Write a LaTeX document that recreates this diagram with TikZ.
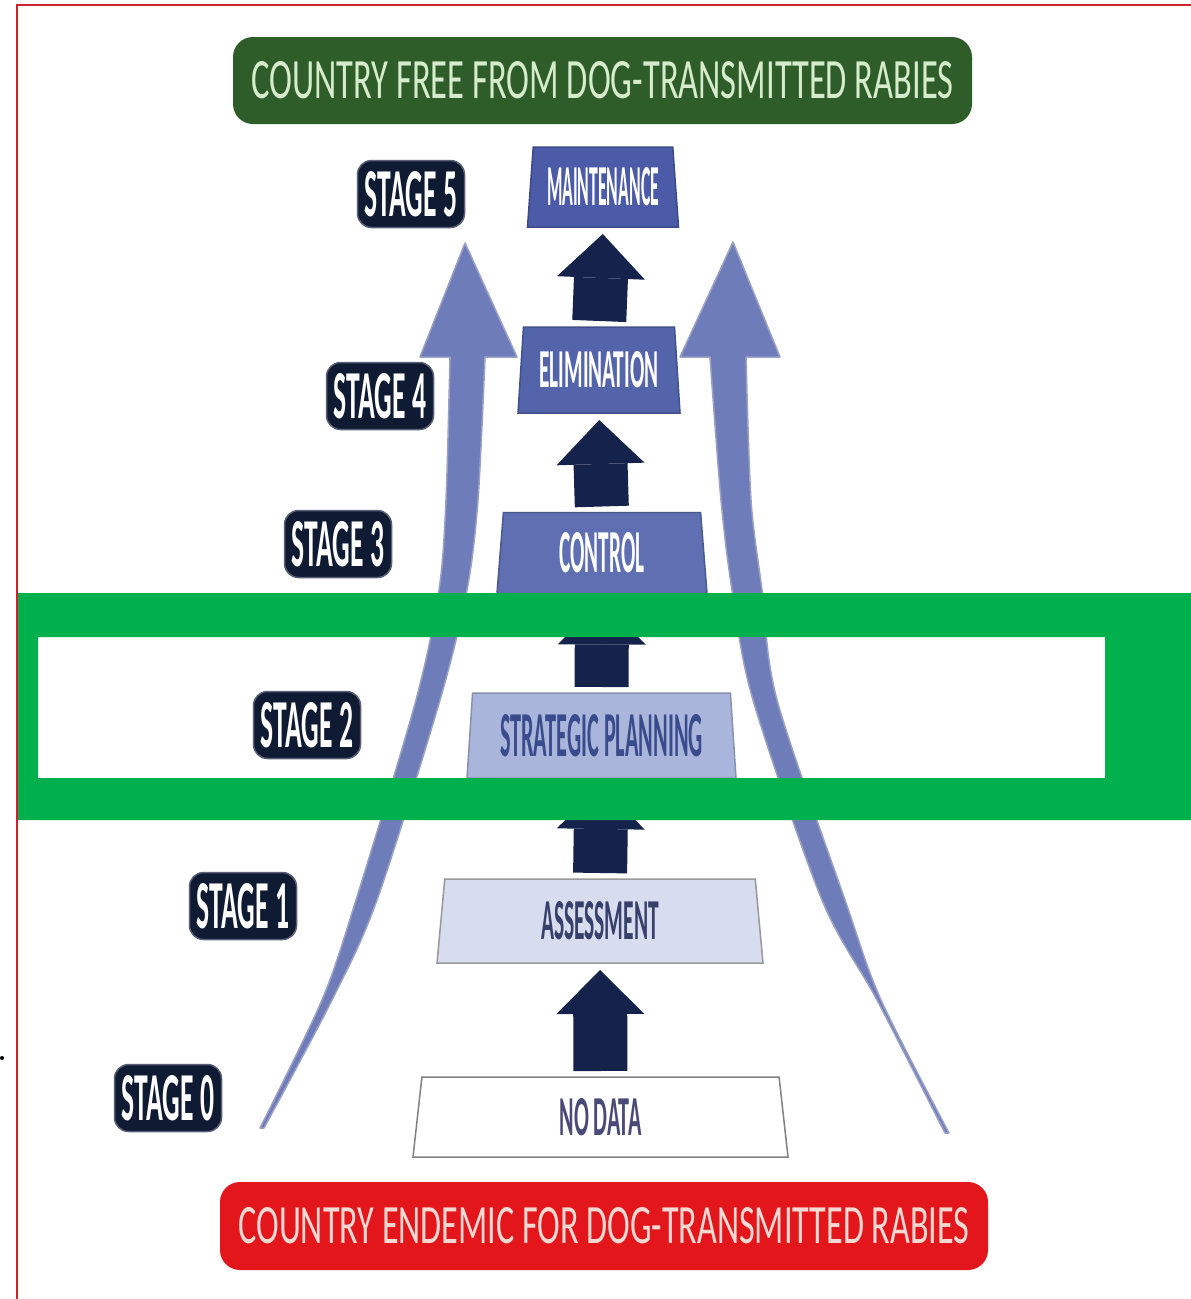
\documentclass[tikz,border=0pt]{standalone}
\usepackage{fontspec}
\setmainfont{Carlito}
\usepackage{graphicx}
\usetikzlibrary{shapes.geometric}
\usetikzlibrary{arrows.meta}

\definecolor{freegreen}{HTML}{2F5D29}
\definecolor{freetext}{HTML}{D6ECCC}
\definecolor{endemicred}{HTML}{E3161C}
\definecolor{endemictext}{HTML}{F7D9D4}
\definecolor{stagenavy}{HTML}{0F1A33}
\definecolor{stageedge}{HTML}{5A6078}
\definecolor{arrownavy}{HTML}{15224B}
\definecolor{sidefill}{HTML}{6E7CBA}
\definecolor{sideedge}{HTML}{9AA1C4}
\definecolor{maintblue}{HTML}{4C5BA7}
\definecolor{elimblue}{HTML}{5464AB}
\definecolor{ctrlblue}{HTML}{5F6FB1}
\definecolor{stratblue}{HTML}{A9B5DA}
\definecolor{strattext}{HTML}{3A4B8D}
\definecolor{assessfill}{HTML}{D7DCEF}
\definecolor{assesstext}{HTML}{373F6B}
\definecolor{nodatatext}{HTML}{4A4A78}
\definecolor{hlgreen}{HTML}{00B04C}
\definecolor{borderred}{HTML}{D0222C}

\newcommand{\fitbox}[3]{\resizebox{#1pt}{#2pt}{#3}}

\begin{document}
\begin{tikzpicture}[x=1pt,y=-1pt,
    rung/.style={trapezium, trapezium stretches body, inner sep=0pt, outer sep=0pt,
        line width=1.5pt, font=\bfseries},
    stagebox/.style={rounded corners=14pt, fill=stagenavy, draw=stageedge, line width=1.5pt,
        minimum width=107pt, minimum height=67pt, inner sep=0pt, text=white, font=\bfseries},
    banner/.style={rounded corners=20pt, inner sep=0pt, minimum height=87pt},
    climb/.style={draw=arrownavy, line width=54pt,
        -{Triangle[width=88pt,length=44pt,line width=0pt]},
        shorten <=6pt, shorten >=7pt},
    sidearrow/.style={fill=sidefill, draw=sideedge, line width=1.5pt, line join=round}]

    \useasboundingbox (0,0) rectangle (1191,1299);
    \fill[white] (0,0) rectangle (1191,1299);

    % the two rising arrows at the sides
    \filldraw[sidearrow] (420,357) -- (465,243) -- (517,357) -- (485,357)
        -- plot[smooth] coordinates {(485,357) (478,500) (467,590) (440,700) (377,900) (332,1000) (264,1128)}
        -- (260,1128)
        -- plot[smooth] coordinates {(260,1128) (322,1000) (356,900) (416,700) (439,590) (446,500) (450,357)}
        -- cycle;
    \filldraw[sidearrow] (780,357) -- (733,242) -- (680,357) -- (710,357)
        -- plot[smooth] coordinates {(710,357) (721,500) (732,590) (753,700) (822,900) (877,1000) (945,1133)}
        -- (949,1133)
        -- plot[smooth] coordinates {(949,1133) (881,1000) (845,900) (777,700) (762,590) (751,500) (746,357)}
        -- cycle;

    % the ladder
    \node[rung, fill=maintblue, draw=maintblue!80!black, text=white,
        minimum width=151pt, minimum height=80pt, trapezium angle=81.5] (maint) at (603,187)
        {\fitbox{112}{38}{MAINTENANCE}};
    \node[rung, fill=elimblue, draw=elimblue!80!black, text=white,
        minimum width=162pt, minimum height=86pt, trapezium angle=81.4] (elim) at (599,370)
        {\fitbox{119}{36}{ELIMINATION}};
    \node[rung, fill=ctrlblue, draw=ctrlblue!80!black, text=white,
        minimum width=210pt, minimum height=81pt, trapezium angle=81] (ctrl) at (602,553)
        {\fitbox{85}{40}{CONTROL}};
    \node[rung, fill=stratblue, draw=stratblue!80!black, text=strattext,
        minimum width=269pt, minimum height=85pt, trapezium angle=82.5] (strat) at (601.5,735.5)
        {\fitbox{203}{42}{STRATEGIC PLANNING}};
    \node[rung, fill=assessfill, draw=gray!80, text=assesstext,
        minimum width=326pt, minimum height=84pt, trapezium angle=78.6] (assess) at (600,921)
        {\fitbox{118}{38}{ASSESSMENT}};
    \node[rung, fill=white, draw=gray, text=nodatatext,
        minimum width=375pt, minimum height=80pt, trapezium angle=76.6] (nodata) at (600.5,1117)
        {\fitbox{82}{37}{NO DATA}};

    \foreach \lo/\hi in {nodata/assess, assess/strat, strat/ctrl, ctrl/elim, elim/maint}
        \draw[climb] (\lo.north) -- (\hi.south);

    % stage labels
    \node[stagebox] (s5) at (411,194) {\fitbox{92}{45}{STAGE 5}};
    \node[stagebox] (s4) at (380,396) {\fitbox{92}{45}{STAGE 4}};
    \node[stagebox] (s3) at (338,544) {\fitbox{92}{45}{STAGE 3}};
    \node[stagebox] (s2) at (307,725) {\fitbox{92}{45}{STAGE 2}};
    \node[stagebox] (s1) at (243,906) {\fitbox{92}{45}{STAGE 1}};
    \node[stagebox] (s0) at (168,1098) {\fitbox{92}{45}{STAGE 0}};

    % start and goal
    \node[banner, fill=freegreen, text=freetext, minimum width=739pt] (free) at (602.5,80.5)
        {\fitbox{702}{37}{COUNTRY FREE FROM DOG-TRANSMITTED RABIES}};
    \node[banner, fill=endemicred, text=endemictext, minimum width=768pt, minimum height=88pt]
        (endemic) at (604,1226) {\fitbox{731}{36}{COUNTRY ENDEMIC FOR DOG-TRANSMITTED RABIES}};

    % highlight of stage 2
    \fill[hlgreen, even odd rule] (17,593) rectangle (1191,820) (38,637) rectangle (1105,778);

    \draw[borderred, line width=2.5pt] (17,1299) -- (17,5) -- (1191,5);
    \fill (2,1058) circle (2);
\end{tikzpicture}
\end{document}
